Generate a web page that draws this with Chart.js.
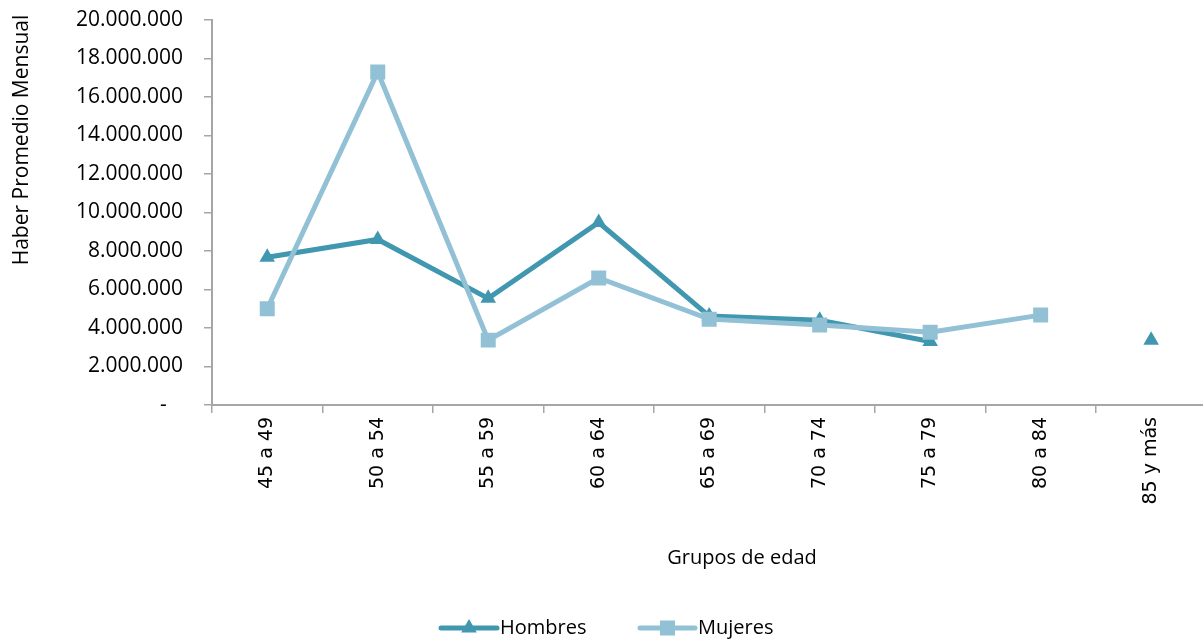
<!DOCTYPE html>
<html>
<head>
<meta charset="utf-8">
<script src="https://cdn.jsdelivr.net/npm/chart.js@4/dist/chart.umd.min.js"></script>
<style>
html,body{margin:0;padding:0;background:#fff;overflow:hidden;}
#wrap{width:1217px;height:641px;}
</style>
</head>
<body>
<div id="wrap"><canvas id="c" width="1217" height="641"></canvas></div>
<script>
const categories = ["45 a 49","50 a 54","55 a 59","60 a 64","65 a 69","70 a 74","75 a 79","80 a 84","85 y más"];
const hombres = [7680000, 8600000, 5540000, 9480000, 4620000, 4400000, 3300000, null, 3370000];
const mujeres = [5000000, 17300000, 3370000, 6600000, 4460000, 4150000, 3780000, 4670000, null];
const yTitle = "Haber Promedio Mensual";
const xTitle = "Grupos de edad";
const seriesNames = ["Hombres","Mujeres"];
const colH = "#4097AF";
const colM = "#92C1D5";
const axisCol = "#A6A6A6";
const fontFam = "'Open Sans', sans-serif";

function fmt(v){
  if (v === 0) return "-   ";
  return String(Math.round(v)).replace(/\B(?=(\d{3})+(?!\d))/g, ".");
}

const decor = {
  id: 'decor',
  afterDraw(chart){
    const ctx = chart.ctx;
    ctx.save();
    ctx.fillStyle = '#000';
    ctx.font = "21px " + fontFam;
    ctx.textAlign = 'center';
    ctx.textBaseline = 'middle';
    ctx.save();
    ctx.translate(22, 140);
    ctx.rotate(-Math.PI/2);
    ctx.fillText(yTitle, 0, 0);
    ctx.restore();
    ctx.font = "20px " + fontFam;
    ctx.fillText(xTitle, 742, 558);
    const items = [
      {name: seriesNames[0], col: colH, style: 'triangle', x0: 441, x1: 497, tx: 500},
      {name: seriesNames[1], col: colM, style: 'rect', x0: 640, x1: 695, tx: 698}
    ];
    const ly = 628;
    items.forEach(it => {
      ctx.strokeStyle = it.col;
      ctx.lineWidth = 5;
      ctx.lineCap = 'round';
      ctx.beginPath();
      ctx.moveTo(it.x0, ly);
      ctx.lineTo(it.x1, ly);
      ctx.stroke();
      ctx.fillStyle = it.col;
      const cx = (it.x0 + it.x1)/2;
      if (it.style === 'triangle') {
        Chart.helpers.drawPoint(ctx, {pointStyle:'triangle', radius:9, borderWidth:0}, cx, ly);
      } else {
        ctx.fillRect(cx-7.5, ly-7.5, 15, 15);
      }
      ctx.fillStyle = '#000';
      ctx.textAlign = 'left';
      ctx.font = "20px " + fontFam;
      ctx.fillText(it.name, it.tx, ly);
    });
    ctx.restore();
  }
};

new Chart(document.getElementById('c'), {
  type: 'line',
  data: {
    labels: categories,
    datasets: [
      {
        label: seriesNames[0], data: hombres,
        borderColor: colH, backgroundColor: colH,
        borderWidth: 5, pointStyle: 'triangle', pointRadius: 9, pointHoverRadius: 9,
        pointBorderWidth: 0, pointBackgroundColor: colH, pointBorderColor: colH,
        tension: 0, spanGaps: false, order: 2
      },
      {
        label: seriesNames[1], data: mujeres,
        borderColor: colM, backgroundColor: colM,
        borderWidth: 5, pointStyle: 'rect', pointRadius: 10.6, pointHoverRadius: 10.6,
        pointBorderWidth: 0, pointBackgroundColor: colM, pointBorderColor: colM,
        tension: 0, spanGaps: false, order: 1
      }
    ]
  },
  options: {
    responsive: false,
    animation: false,
    devicePixelRatio: 1,
    layout: {padding: {top: 20, left: 0, right: 0, bottom: 0}},
    plugins: {legend: {display: false}, tooltip: {enabled: false}},
    scales: {
      x: {
        type: 'category',
        offset: true,
        grid: {offset: true, drawOnChartArea: false, drawTicks: true, tickLength: 8, color: axisCol, lineWidth: 1.5},
        border: {color: axisCol, width: 2},
        ticks: {
          color: '#000', font: {family: "'DejaVu Sans', sans-serif", size: 19},
          minRotation: 90, maxRotation: 90, padding: 4, autoSkip: false
        },
        afterFit(s){ s.height = 641 - 405; s.paddingLeft = 0; s.paddingRight = 0; s.paddingTop = 0; s.paddingBottom = 0; }
      },
      y: {
        min: 0, max: 20000000,
        grid: {drawOnChartArea: false, drawTicks: true, tickLength: 8, color: axisCol, lineWidth: 1.5},
        border: {color: axisCol, width: 2},
        ticks: {
          stepSize: 2000000, color: '#000', font: {family: fontFam, size: 21}, padding: 21,
          callback: (v) => fmt(v)
        },
        afterFit(s){ s.width = 212; s.paddingTop = 0; s.paddingBottom = 0; s.paddingLeft = 0; s.paddingRight = 0; }
      }
    }
  },
  plugins: [decor]
});
</script>
</body>
</html>
